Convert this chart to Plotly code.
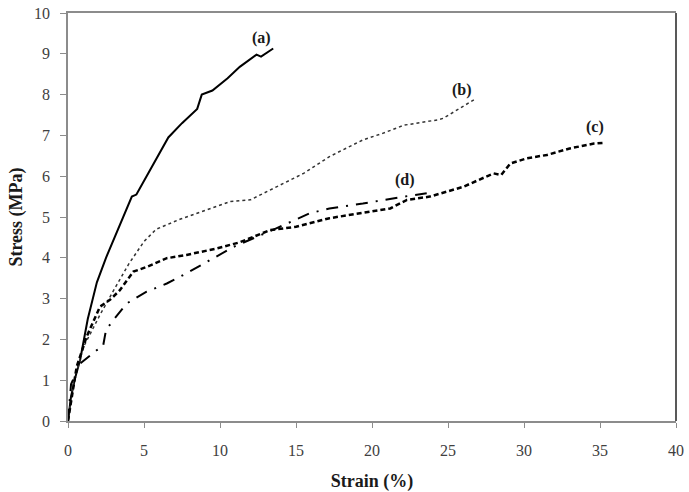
import plotly.graph_objects as go

# Curve (a)
a_x = [0, 0.2, 0.5, 0.8, 1.3, 1.9, 2.5, 3.0, 3.6, 4.2, 4.5, 5.5, 6.6, 7.5, 8.5, 8.8, 9.5, 10.5, 11.3, 12.4, 12.7, 13.5]
a_y = [0, 0.6, 1.1, 1.5, 2.5, 3.4, 4.0, 4.45, 5.0, 5.5, 5.55, 6.2, 6.95, 7.3, 7.65, 8.0, 8.1, 8.4, 8.68, 8.98, 8.93, 9.13]
# Curve (b)
b_x = [0, 0.35, 1.0, 2.1, 3.0, 4.0, 5.0, 5.8, 7.4, 9.1, 10.7, 12.0, 13.3, 15.5, 17.2, 19.4, 20.7, 22.1, 24.3, 24.7, 25.8, 26.7]
b_y = [0, 0.9, 1.8, 2.6, 3.2, 3.85, 4.4, 4.7, 4.95, 5.17, 5.38, 5.42, 5.66, 6.07, 6.48, 6.89, 7.05, 7.25, 7.38, 7.42, 7.67, 7.87]
# Curve (c)
c_x = [0, 0.57, 1.23, 2.1, 2.76, 3.4, 4.3, 5.2, 6.5, 7.8, 9.8, 11.3, 13.3, 15.0, 17.2, 19.9, 21.2, 22.3, 23.8, 26.0, 28.0, 28.5, 29.1, 30.2, 31.5, 33.0, 34.6, 35.3]
c_y = [0, 1.33, 2.07, 2.8, 2.97, 3.2, 3.66, 3.78, 3.99, 4.07, 4.23, 4.38, 4.68, 4.76, 4.97, 5.13, 5.21, 5.42, 5.5, 5.74, 6.07, 6.03, 6.31, 6.44, 6.52, 6.68, 6.8, 6.82]
# Curve (d)
d_x = [0, 0.2, 0.8, 1.9, 2.3, 2.5, 3.0, 3.86, 5.17, 6.5, 7.8, 9.56, 10.9, 13.7, 15.9, 17.2, 19.4, 22.1, 23.6]
d_y = [0, 0.9, 1.41, 1.74, 1.82, 2.23, 2.48, 2.88, 3.17, 3.37, 3.62, 3.99, 4.27, 4.72, 5.09, 5.21, 5.33, 5.5, 5.58]

labels = ["(a)", "(b)", "(c)", "(d)"]
label_x = [12.74, 25.9, 34.67, 22.17]
label_y = [9.38, 8.12, 7.21, 5.9]

fig = go.Figure()
fig.add_trace(go.Scatter(x=a_x, y=a_y, mode="lines", line=dict(color="black", width=2)))
fig.add_trace(go.Scatter(x=b_x, y=b_y, mode="lines", line=dict(color="#333333", width=1.5, dash="dot")))
fig.add_trace(go.Scatter(x=c_x, y=c_y, mode="lines", line=dict(color="black", width=2.5, dash="5px,3px")))
fig.add_trace(go.Scatter(x=d_x, y=d_y, mode="lines", line=dict(color="black", width=2, dash="12px,8px,2px,8px")))

for t, x, y in zip(labels, label_x, label_y):
    fig.add_annotation(x=x, y=y, text="<b>" + t + "</b>", showarrow=False,
                       font=dict(family="Liberation Serif", size=16, color="#1a1a1a"))

fig.add_shape(type="line", xref="paper", yref="paper", x0=1, x1=1, y0=0, y1=1,
              line=dict(color="#222222", width=1.5))

axis_font = dict(family="Liberation Serif", size=16, color="#404040")
title_font = dict(family="Liberation Serif", size=18, color="#1a1a1a")
fig.update_xaxes(range=[0, 40], tickvals=[0, 5, 10, 15, 20, 25, 30, 35, 40],
                 showgrid=False, zeroline=False, showline=True, linecolor="#8c8c8c", linewidth=1.5,
                 mirror=True, ticks="outside", ticklen=5, tickcolor="#8c8c8c",
                 tickfont=axis_font, ticklabelstandoff=9, automargin=False,
                 title=dict(text="<b>Strain (%)</b>", font=title_font, standoff=25))
fig.update_yaxes(range=[0, 10], tickvals=list(range(0, 11)),
                 showgrid=False, zeroline=False, showline=True, linecolor="#8c8c8c", linewidth=1.5,
                 ticks="outside", ticklen=6, tickcolor="#8c8c8c",
                 tickfont=axis_font, ticklabelstandoff=7, automargin=False,
                 title=dict(text="<b>Stress (MPa)</b>", font=title_font, standoff=7))
fig.update_layout(width=689, height=492, margin=dict(l=68, r=13, t=13, b=71),
                  plot_bgcolor="white", paper_bgcolor="white", showlegend=False)
fig.write_html("out.html")
